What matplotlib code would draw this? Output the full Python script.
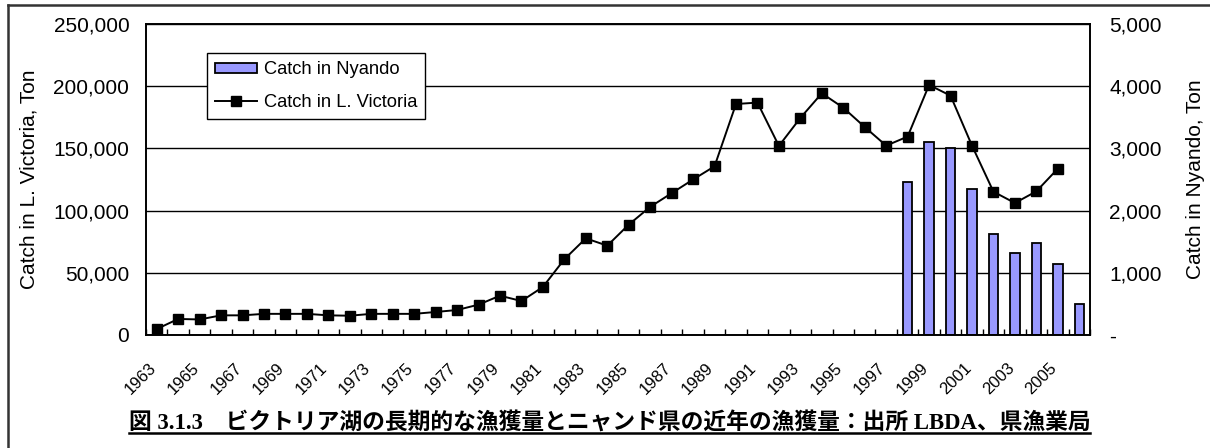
import matplotlib
matplotlib.use("Agg")
import matplotlib.pyplot as plt
from matplotlib.lines import Line2D
from matplotlib.patches import Patch
from matplotlib.ticker import FuncFormatter, FixedLocator
import numpy as np

# Annual catch, Lake Victoria (Kenya), tons
victoria_years = list(range(1963, 2006))
victoria_catch = [
    4800, 12900, 12500, 15800, 15800, 17000, 17000, 17000, 15800, 15500,
    17000, 17000, 17000, 18500, 20100, 24400, 31600, 27300, 38600, 60900,
    77700, 71800, 88700, 103000, 114000, 125000, 135600, 185700, 186800, 152000,
    174500, 194300, 182700, 167200, 152200, 159500, 201000, 192400, 152200, 115200,
    106100, 115500, 133700,
]

# Annual catch, Nyando district, tons
nyando_years = list(range(1998, 2007))
nyando_catch = [2465, 3108, 3002, 2353, 1624, 1313, 1479, 1147, 504]

all_years = list(range(1963, 2007))
label_years = list(range(1963, 2006, 2))

left_label = "Catch in L. Victoria, Ton"
right_label = "Catch in Nyando, Ton"
caption = "図 3.1.3\u3000ビクトリア湖の長期的な漁獲量とニャンド県の近年の漁獲量：出所 LBDA、県漁業局"

plt.rcParams["font.family"] = ["Liberation Sans", "DejaVu Sans"]

W, H = 1210, 448
fig = plt.figure(figsize=(W / 100, H / 100), dpi=100)

left, right, top, bottom = 146, 1090, 24, 335
ax = fig.add_axes([left / W, 1 - bottom / H, (right - left) / W, (bottom - top) / H])
ax2 = ax.twinx()

pos = {y: i for i, y in enumerate(all_years)}
xv = [pos[y] for y in victoria_years]
xn = [pos[y] for y in nyando_years]

# bars on the right axis, behind the line
ax2.set_axisbelow(True)
ax2.yaxis.grid(True, color="black", linewidth=1.0)
ax2.bar(xn, nyando_catch, width=0.44, color="#9999FF", edgecolor="black",
        linewidth=1.3, zorder=2)
ax2.set_ylim(0, 5000)
ax2.yaxis.set_major_locator(FixedLocator([0, 1000, 2000, 3000, 4000, 5000]))
ax2.yaxis.set_major_formatter(FuncFormatter(lambda v, p: "-" if v == 0 else f"{int(v):,}"))
ax2.tick_params(axis="y", length=0, pad=14, labelsize=15)
ax2.set_ylabel(right_label, fontsize=15, labelpad=17)

# line on the left axis, drawn on top
ax.set_zorder(ax2.get_zorder() + 1)
ax.patch.set_visible(False)
ax.plot(xv, victoria_catch, color="black", linewidth=1.4, marker="s",
        markersize=6.5, markerfacecolor="black", markeredgecolor="black", zorder=5)
ax.set_ylim(0, 250000)
ax.yaxis.set_major_locator(FixedLocator([0, 50000, 100000, 150000, 200000, 250000]))
ax.yaxis.set_major_formatter(FuncFormatter(lambda v, p: f"{int(v):,}"))
ax.tick_params(axis="y", length=0, pad=12, labelsize=15)
ax.set_ylabel(left_label, fontsize=15, labelpad=11)

ax.set_xlim(-0.5, len(all_years) - 0.5)
ax.set_xticks([pos[y] for y in label_years])
ax.set_xticklabels([str(y) for y in label_years], rotation=45, ha="right",
                   va="baseline", rotation_mode="anchor", fontsize=12)
ax.set_xticks(np.arange(-0.5, len(all_years), 1.0), minor=True)
ax.tick_params(axis="x", which="major", length=0, pad=24)
ax.tick_params(axis="x", which="minor", direction="in", length=4, width=1)
ax2.tick_params(axis="x", which="both", length=0)

for a in (ax, ax2):
    for s in a.spines.values():
        s.set_color("black")
        s.set_linewidth(1.2)

handles = [
    Patch(facecolor="#9999FF", edgecolor="black", linewidth=1.3),
    Line2D([], [], color="black", linewidth=1.4, marker="s", markersize=6.5),
]
leg = ax.legend(handles, ["Catch in Nyando", "Catch in L. Victoria"],
                loc="upper left",
                bbox_to_anchor=((207 - left) / (right - left), 1 - (53 - top) / (bottom - top)),
                fontsize=13.2, frameon=True, fancybox=False, framealpha=1,
                edgecolor="black", borderpad=0.45, labelspacing=0.85,
                handlelength=2.3, handleheight=0.5, handletextpad=0.35,
                borderaxespad=0)
leg.get_frame().set_linewidth(1.0)

# outer frame (left and top edges)
fig.add_artist(Line2D([8 / W, 8 / W], [0, 1 - 5 / H], transform=fig.transFigure,
                      color="#333333", linewidth=1.8))
fig.add_artist(Line2D([8 / W, 1], [1 - 5 / H, 1 - 5 / H], transform=fig.transFigure,
                      color="#333333", linewidth=1.8))

# underlined caption
cap = fig.text(609.5 / W, 1 - 429 / H, caption, ha="center", va="baseline",
               fontsize=16.4, fontweight="bold",
               family=["Liberation Serif", "Noto Sans CJK JP"])
fig.canvas.draw()
bb = cap.get_window_extent(fig.canvas.get_renderer()).transformed(fig.transFigure.inverted())
fig.add_artist(Line2D([bb.x0, bb.x1], [1 - 433 / H, 1 - 433 / H], transform=fig.transFigure,
                      color="black", linewidth=1.8))

fig.savefig("out.png", dpi=100)
